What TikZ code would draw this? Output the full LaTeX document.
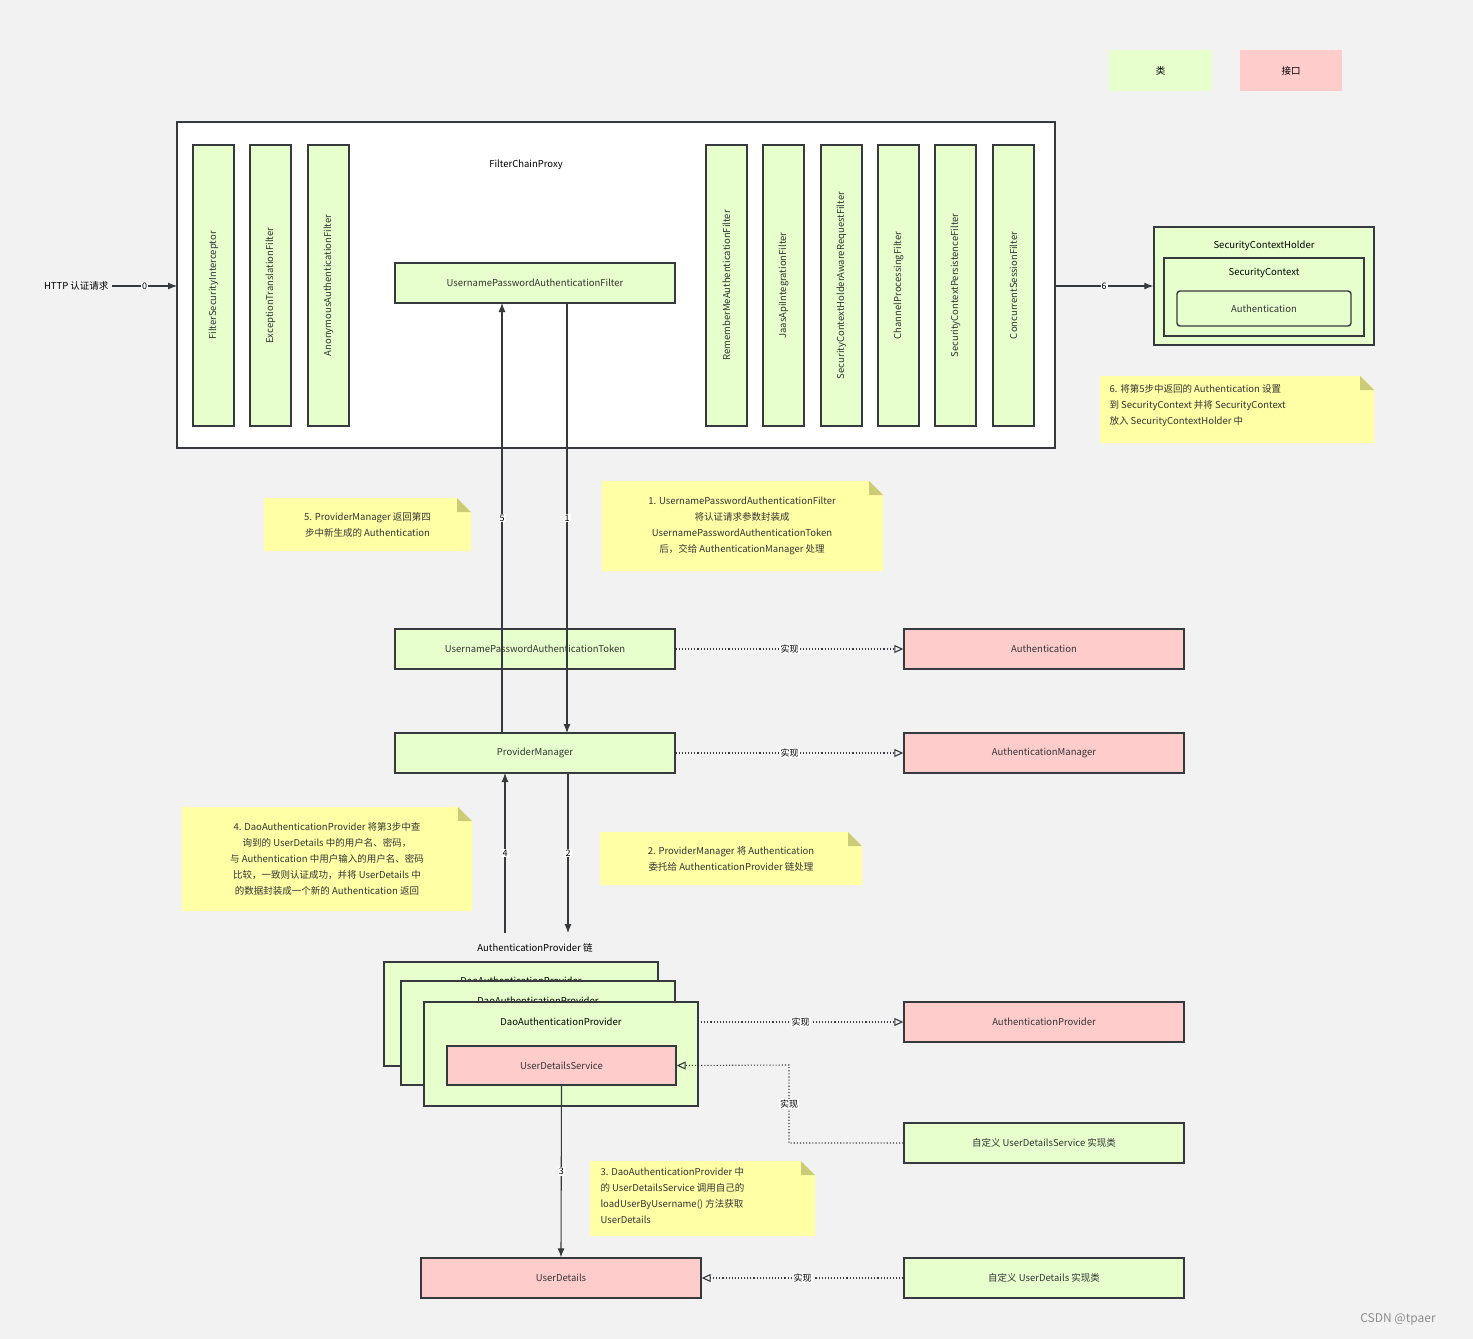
\documentclass[tikz,border=0pt]{standalone}
\usepackage{fontspec}
\setmainfont{Noto Sans CJK SC}
\usetikzlibrary{arrows.meta}
\definecolor{cls}{HTML}{E6FFCC}
\definecolor{itf}{HTML}{FFCCCC}
\definecolor{note}{HTML}{FFFFA6}
\definecolor{fold}{HTML}{CCCC77}
\definecolor{bd}{HTML}{36393D}
\begin{document}
\begin{tikzpicture}[x=1pt,y=-1pt,font=\fontsize{9.5}{16}\selectfont,
  box/.style={draw=bd,line width=1.4pt,text=black!80},
  cls/.style={box,fill=cls},
  itf/.style={box,fill=itf},
  arr/.style={draw=bd,line width=1.1pt,-{Latex[length=9pt,width=7pt]}},
  impl/.style={draw=bd,line width=1.1pt,dotted,-{Triangle[open,length=9pt,width=8pt]}},
  lab/.style={fill=white,inner sep=1pt,font=\fontsize{9}{10}\selectfont},
  notetxt/.style={font=\fontsize{9.5}{16}\selectfont,text=black!80,align=center}]
\newcommand{\notebox}[4]{\fill[note] (#1,#2) -- (#3-14,#2) -- (#3,#2+14) -- (#3,#4) -- (#1,#4) -- cycle;
 \fill[fold] (#3-14,#2) -- (#3,#2+14) -- (#3-14,#2+14) -- cycle;}
\fill[black!5] (0,0) rectangle (1473,1339);
\useasboundingbox (0,0) rectangle (1473,1339);
% legend
\node[fill=cls,minimum width=103pt,minimum height=41pt] (lc) at (1160.5,70.5) {类};
\node[fill=itf,minimum width=102pt,minimum height=41pt] (li) at (1291,70.5) {接口};
% FilterChainProxy
\draw[draw=bd,line width=1.4pt,fill=white] (177,122) rectangle (1055,448);
\node (fcp) at (526,165) {FilterChainProxy};
\coordinate (fcpL) at (177,286); \coordinate (fcpR) at (1055,286);
\foreach \x/\t [count=\i] in {213.5/FilterSecurityInterceptor,270.5/ExceptionTranslationFilter,328.5/AnonymousAuthenticationFilter,726.5/RememberMeAuthenticationFilter,783.5/JaasApiIntegrationFilter,841.5/SecurityContextHolderAwareRequestFilter,898.5/ChannelProcessingFilter,955.5/SecurityContextPersistenceFilter,1013.5/ConcurrentSessionFilter}
  \node[cls,minimum width=281pt,minimum height=41pt,rotate=90] (f\i) at (\x,285.5) {\t};
\node[cls,minimum width=280pt,minimum height=40pt] (upaf) at (535,283) {UsernamePasswordAuthenticationFilter};
% HTTP
\node[anchor=east] (http) at (112,286) {HTTP 认证请求};
\draw[arr] (http.east) -- node[lab]{0} (fcpL);
% holder
\node[cls,minimum width=220pt,minimum height=118pt] (sch) at (1264,286) {};
\node (schl) at (1264,246) {SecurityContextHolder};
\draw[box,fill=cls] (1164,258) rectangle (1364,336);
\node (scl) at (1264,273) {SecurityContext};
\node[cls,rounded corners=3pt,minimum width=174pt,minimum height=35pt] (sca) at (1264,308.5) {Authentication};
\draw[arr] (fcpR) -- node[lab]{6} (sch.west);
\notebox{1100}{376}{1374}{443}
\node[notetxt,align=left,anchor=north west] (n6) at (1106,381) {6. 将第5步中返回的 Authentication 设置\\到 SecurityContext 并将 SecurityContext\\放入 SecurityContextHolder 中};
% token / PM
\node[cls,minimum width=280pt,minimum height=40pt] (tok) at (535,649) {UsernamePasswordAuthenticationToken};
\node[itf,minimum width=280pt,minimum height=40pt] (auth) at (1044,649) {Authentication};
\node[cls,minimum width=280pt,minimum height=40pt] (pm) at (535,753) {ProviderManager};
\node[itf,minimum width=280pt,minimum height=40pt] (am) at (1044,753) {AuthenticationManager};
\draw[impl] (tok) -- node[lab]{实现} (auth);
\draw[impl] (pm) -- node[lab]{实现} (am);
\draw[arr] (502,733) -- node[lab,pos=0.5]{5} (502,303);
\draw[arr] (567,303) -- node[lab,pos=0.5]{1} (567,733);
\notebox{264}{498}{471}{551}
\node[notetxt] (n5) at (367.5,525) {5. ProviderManager 返回第四\\步中新生成的 Authentication};
\notebox{602}{481}{883}{571}
\node[notetxt] (n1) at (742,526) {1. UsernamePasswordAuthenticationFilter\\将认证请求参数封装成\\UsernamePasswordAuthenticationToken\\后，交给 AuthenticationManager 处理};
% providers
\node (apl) at (535,948) {AuthenticationProvider 链};
\draw[box,fill=cls] (384,962) rectangle (658,1066);
\node at (521,981) {DaoAuthenticationProvider};
\draw[box,fill=cls] (401,981) rectangle (675,1085);
\node at (538,1001) {DaoAuthenticationProvider};
\node[cls,minimum width=274pt,minimum height=104pt] (dao) at (561,1054) {};
\node at (561,1022) {DaoAuthenticationProvider};
\node[itf,minimum width=229pt,minimum height=39pt] (uds) at (561.5,1065.5) {UserDetailsService};
\draw[arr] (505,933) -- node[lab]{4} (505,773);
\draw[arr] (568,773) -- node[lab]{2} (568,933);
\notebox{182}{807}{472}{911}
\node[notetxt] (n4) at (327,859) {4. DaoAuthenticationProvider 将第3步中查\\询到的 UserDetails 中的用户名、密码，\\与 Authentication 中用户输入的用户名、密码\\比较，一致则认证成功，并将 UserDetails 中\\的数据封装成一个新的 Authentication 返回};
\notebox{600}{832}{862}{885}
\node[notetxt] (n2) at (731,858.5) {2. ProviderManager 将 Authentication\\委托给 AuthenticationProvider 链处理};
\node[itf,minimum width=280pt,minimum height=40pt] (ap) at (1044,1022) {AuthenticationProvider};
\draw[impl] (698,1022) -- node[lab]{实现} (ap);
\node[cls,minimum width=280pt,minimum height=40pt] (cuds) at (1044,1143) {自定义 UserDetailsService 实现类};
\draw[impl] (cuds.west) -- (789,1143) -- node[lab]{实现} (789,1065) -- (uds.east);
% userdetails
\node[itf,minimum width=280pt,minimum height=40pt] (ud) at (561,1278) {UserDetails};
\draw[arr] (uds.south) -- node[lab]{3} (ud.north);
\notebox{590}{1161}{815}{1236}
\node[notetxt,align=left,anchor=north west] (n3) at (597,1164) {3. DaoAuthenticationProvider 中\\的 UserDetailsService 调用自己的\\loadUserByUsername() 方法获取\\UserDetails};
\node[cls,minimum width=280pt,minimum height=40pt] (cud) at (1044,1278) {自定义 UserDetails 实现类};
\draw[impl] (cud) -- node[lab]{实现} (ud);
\node[text=black!45,font=\fontsize{12}{14}\selectfont] (wm) at (1398,1319) {CSDN @tpaer};
\end{tikzpicture}
\end{document}
